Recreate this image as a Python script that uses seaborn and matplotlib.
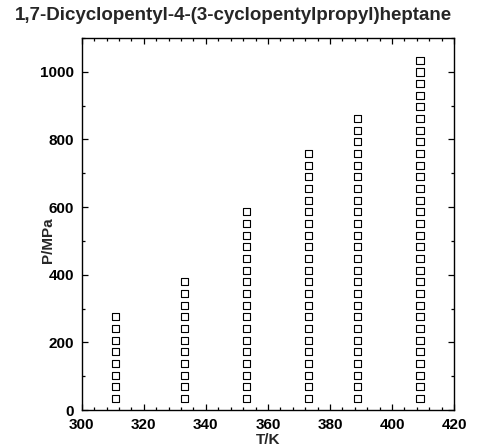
import numpy as np
import pandas as pd
import matplotlib
matplotlib.use("Agg")
import matplotlib.pyplot as plt
import seaborn as sns
from matplotlib.ticker import MultipleLocator

# Data
temperatures = [311.0, 333.0, 353.0, 373.0, 389.0, 409.0]
p_311 = [34.5, 68.9, 103.4, 137.9, 172.4, 206.8, 241.3, 275.8]
p_333 = [34.5, 68.9, 103.4, 137.9, 172.4, 206.8, 241.3, 275.8, 310.3, 344.7, 379.2]
p_353 = [34.5, 68.9, 103.4, 137.9, 172.4, 206.8, 241.3, 275.8, 310.3, 344.7, 379.2,
         413.7, 448.2, 482.6, 517.1, 551.6, 586.1]
p_373 = [34.5, 68.9, 103.4, 137.9, 172.4, 206.8, 241.3, 275.8, 310.3, 344.7, 379.2,
         413.7, 448.2, 482.6, 517.1, 551.6, 586.1, 620.5, 655.0, 689.5, 724.0, 758.4]
p_389 = [34.5, 68.9, 103.4, 137.9, 172.4, 206.8, 241.3, 275.8, 310.3, 344.7, 379.2,
         413.7, 448.2, 482.6, 517.1, 551.6, 586.1, 620.5, 655.0, 689.5, 724.0, 758.4,
         792.9, 827.4, 861.8]
p_409 = [34.5, 68.9, 103.4, 137.9, 172.4, 206.8, 241.3, 275.8, 310.3, 344.7, 379.2,
         413.7, 448.2, 482.6, 517.1, 551.6, 586.1, 620.5, 655.0, 689.5, 724.0, 758.4,
         792.9, 827.4, 861.8, 896.3, 930.8, 965.3, 999.7, 1034.2]
pressures = [p_311, p_333, p_353, p_373, p_389, p_409]

title = "1,7-Dicyclopentyl-4-(3-cyclopentylpropyl)heptane"
x_label = "T/K"
y_label = "P/MPa"
x_ticks = [300, 320, 340, 360, 380, 400, 420]
y_ticks = [0, 200, 400, 600, 800, 1000]

rows = []
for t, plist in zip(temperatures, pressures):
    for p in plist:
        rows.append({"T": t, "P": p})
df = pd.DataFrame(rows)

sns.set_style("ticks")
plt.rcParams["font.family"] = ["Liberation Sans", "DejaVu Sans"]
plt.rcParams["font.weight"] = "bold"

fig = plt.figure(figsize=(4.78, 4.46), dpi=100)
ax = fig.add_axes([0.171, 0.0807, 0.779, 0.834])

sns.scatterplot(data=df, x="T", y="P", ax=ax, marker="s", s=26,
                facecolor="none", edgecolor="black", linewidth=0.8, legend=False)

ax.set_xlim(300, 420)
ax.set_ylim(0, 1100)
ax.set_xticks(x_ticks)
ax.set_yticks(y_ticks)
ax.xaxis.set_minor_locator(MultipleLocator(4))
ax.yaxis.set_minor_locator(MultipleLocator(100))
ax.tick_params(which="both", direction="in", top=True, right=True, width=0.9,
               labelsize=11, colors="black")
ax.tick_params(axis="x", which="both", pad=5.5)
ax.tick_params(axis="y", which="both", pad=5.5)
ax.tick_params(which="major", length=4.5)
ax.tick_params(which="minor", length=2.3)
for lbl in ax.get_xticklabels() + ax.get_yticklabels():
    lbl.set_fontweight("bold")
for sp in ax.spines.values():
    sp.set_visible(True)
    sp.set_linewidth(1.0)
    sp.set_color("black")

ax.set_xlabel(x_label, fontsize=11, fontweight="bold")
ax.set_ylabel(y_label, fontsize=11, fontweight="bold")
ax.xaxis.set_label_coords(0.5, -0.063)
ax.yaxis.set_label_coords(-0.072, 0.457)

fig.text(0.4885, 0.966, title, ha="center", va="center", fontsize=13.5, fontweight="bold")

fig.savefig("out.png", dpi=100)
